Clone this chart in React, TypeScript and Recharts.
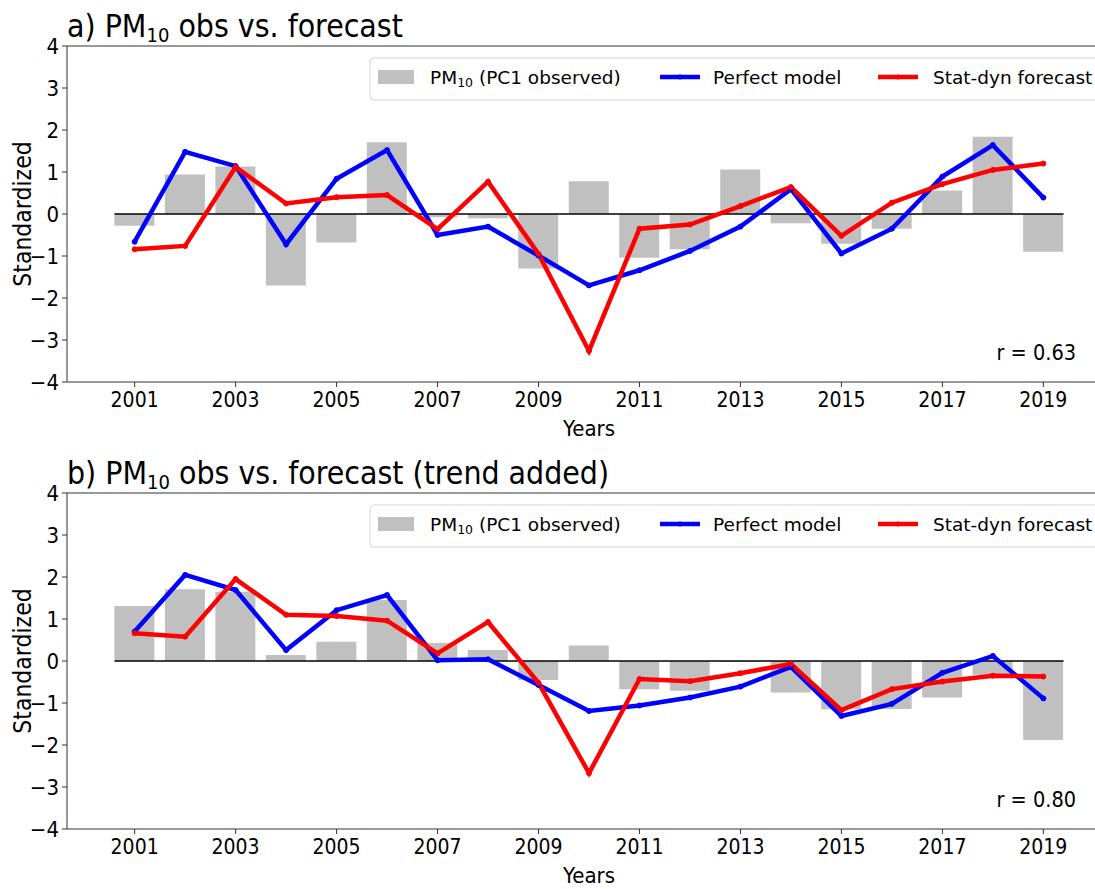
import React from 'react';
import { ComposedChart, Bar, Line, XAxis, YAxis, ReferenceLine } from 'recharts';

const YEARS = [2001, 2002, 2003, 2004, 2005, 2006, 2007, 2008, 2009, 2010, 2011, 2012, 2013, 2014, 2015, 2016, 2017, 2018, 2019];

// Panel a) PM10 obs vs. forecast
const OBS_A = [-0.28, 0.94, 1.13, -1.70, -0.68, 1.71, -0.08, -0.10, -1.30, 0.78, -1.04, -0.84, 1.06, -0.22, -0.71, -0.35, 0.56, 1.84, -0.90];
const PERFECT_A = [-0.66, 1.48, 1.14, -0.72, 0.84, 1.52, -0.50, -0.30, -0.99, -1.70, -1.34, -0.88, -0.30, 0.59, -0.94, -0.35, 0.89, 1.64, 0.39];
const STATDYN_A = [-0.84, -0.76, 1.12, 0.25, 0.40, 0.45, -0.36, 0.77, -0.95, -3.26, -0.35, -0.25, 0.19, 0.64, -0.52, 0.27, 0.71, 1.05, 1.20];

// Panel b) PM10 obs vs. forecast (trend added)
const OBS_B = [1.31, 1.71, 1.65, 0.14, 0.46, 1.45, 0.43, 0.26, -0.45, 0.37, -0.67, -0.71, -0.02, -0.75, -1.15, -1.14, -0.87, -0.33, -1.88];
const PERFECT_B = [0.70, 2.05, 1.69, 0.26, 1.21, 1.57, 0.02, 0.04, -0.57, -1.19, -1.06, -0.87, -0.61, -0.14, -1.31, -1.02, -0.28, 0.12, -0.89];
const STATDYN_B = [0.66, 0.58, 1.95, 1.10, 1.07, 0.96, 0.18, 0.93, -0.52, -2.67, -0.43, -0.48, -0.29, -0.07, -1.17, -0.67, -0.49, -0.35, -0.37];

const X_TICKS = [2001, 2003, 2005, 2007, 2009, 2011, 2013, 2015, 2017, 2019];
const Y_TICKS = [-4, -3, -2, -1, 0, 1, 2, 3, 4];
const X_DOMAIN: [number, number] = [1999.66, 2020.34];
const Y_DOMAIN: [number, number] = [-4, 4];
const ZERO_SPAN = [2000.6, 2019.4];

const TITLE_A = ['a) PM', '10', ' obs vs. forecast'];
const TITLE_B = ['b) PM', '10', ' obs vs. forecast (trend added)'];
const R_A = 'r = 0.63';
const R_B = 'r = 0.80';
const LEGEND = { obs: ['PM', '10', ' (PC1 observed)'], perfect: 'Perfect model', statdyn: 'Stat-dyn forecast' };

const build = (obs: number[], perf: number[], stat: number[]) =>
  YEARS.map((year, i) => ({ year, obs: obs[i], perf: perf[i], stat: stat[i] }));

const DATA_A = build(OBS_A, PERFECT_A, STATDYN_A);
const DATA_B = build(OBS_B, PERFECT_B, STATDYN_B);

const FONT = "'DejaVu Sans Condensed', 'DejaVu Sans', sans-serif";
const FONT_REG = "'DejaVu Sans', sans-serif";
const BLUE = '#0000ff';
const RED = '#ff0000';
const GREY = '#c0c0c0';
const SPINE = '#333333';

const fmtY = (v: number) => (v < 0 ? `\u2212${Math.abs(v)}` : `${v}`);

const XLabel = (props: any) => {
  const vb = props.viewBox || { x: 0, y: 0, width: 0, height: 0 };
  return (
    <text x={vb.x + vb.width / 2} y={vb.y + 54} textAnchor="middle" fontSize={22} fontFamily={FONT} fill="#000">
      Years
    </text>
  );
};

const YLabel = (props: any) => {
  const vb = props.viewBox || { x: 0, y: 0, width: 0, height: 0 };
  const cx = vb.x + 22;
  const cy = vb.y + vb.height / 2;
  return (
    <text x={cx} y={cy} transform={`rotate(-90 ${cx} ${cy})`} textAnchor="middle" dominantBaseline="central" fontSize={24.5} fontFamily={FONT} fill="#000">
      Standardized
    </text>
  );
};

const CHART_W = 1116;
const CHART_H = 442;
const PLOT_TOP = 46;

function Panel({ data, top }: { data: any[]; top: number }) {
  return (
    <div style={{ position: 'absolute', left: 0, top, width: CHART_W, height: CHART_H }}>
      <ComposedChart width={CHART_W} height={CHART_H} data={data} margin={{ top: PLOT_TOP, right: 5, bottom: 0, left: 0 }}>
        <XAxis
          dataKey="year"
          type="number"
          domain={X_DOMAIN}
          allowDataOverflow
          ticks={X_TICKS}
          height={CHART_H - PLOT_TOP - 336}
          tickSize={5}
          tickMargin={5}
          stroke={SPINE}
          tick={{ fill: '#000', fontSize: 21, fontFamily: FONT }}
          label={<XLabel />}
        />
        <YAxis
          type="number"
          domain={Y_DOMAIN}
          allowDataOverflow
          ticks={Y_TICKS}
          width={67}
          tickSize={5}
          tickMargin={3}
          stroke={SPINE}
          tickFormatter={fmtY}
          tick={{ fill: '#000', fontSize: 22, fontFamily: FONT }}
          label={<YLabel />}
        />
        <ReferenceLine y={Y_DOMAIN[1]} stroke={SPINE} strokeWidth={1.2} />
        <Bar dataKey="obs" fill={GREY} barSize={40} isAnimationActive={false} />
        <ReferenceLine
          segment={[{ x: ZERO_SPAN[0], y: 0 }, { x: ZERO_SPAN[1], y: 0 }]}
          stroke="#000"
          strokeWidth={1.3}
        />
        <Line
          dataKey="perf"
          type="linear"
          stroke={BLUE}
          strokeWidth={4.5}
          dot={{ r: 2.5, fill: BLUE, stroke: BLUE, strokeWidth: 1 }}
          activeDot={false}
          isAnimationActive={false}
        />
        <Line
          dataKey="stat"
          type="linear"
          stroke={RED}
          strokeWidth={4.5}
          dot={{ r: 2.5, fill: RED, stroke: RED, strokeWidth: 1 }}
          activeDot={false}
          isAnimationActive={false}
        />
      </ComposedChart>
    </div>
  );
}

function Annotations({ dy, title, r }: { dy: number; title: string[]; r: string }) {
  return (
    <g transform={`translate(0 ${dy})`}>
      <text x={67} y={37} fontSize={31.7} fontFamily={FONT} fill="#000">
        {title[0]}
        <tspan fontSize={20} dy={5}>{title[1]}</tspan>
        <tspan dy={-5}>{title[2]}</tspan>
      </text>
      <text x={1076} y={360} textAnchor="end" fontSize={21.5} fontFamily={FONT} fill="#000">
        {r}
      </text>
      <rect x={370} y={58} width={780} height={42} rx={4} ry={4} fill="#ffffff" fillOpacity={0.8} stroke="#d4d4d4" strokeWidth={1} />
      <rect x={378} y={70} width={36} height={14} fill={GREY} />
      <text x={430} y={84} fontSize={18.5} fontFamily={FONT_REG} fill="#000">
        {LEGEND.obs[0]}
        <tspan fontSize={12.5} dy={3}>{LEGEND.obs[1]}</tspan>
        <tspan dy={-3}>{LEGEND.obs[2]}</tspan>
      </text>
      <line x1={660} y1={77} x2={700} y2={77} stroke={BLUE} strokeWidth={4.5} />
      <circle cx={680} cy={77} r={2.5} fill={BLUE} />
      <text x={713} y={84} fontSize={18.5} fontFamily={FONT_REG} fill="#000">{LEGEND.perfect}</text>
      <line x1={878} y1={77} x2={918} y2={77} stroke={RED} strokeWidth={4.5} />
      <circle cx={898} cy={77} r={2.5} fill={RED} />
      <text x={933} y={84} fontSize={18.5} fontFamily={FONT_REG} fill="#000">{LEGEND.statdyn}</text>
    </g>
  );
}

export default function App() {
  return (
    <div style={{ position: 'absolute', left: 0, top: 0, width: 1095, height: 889, overflow: 'hidden', background: '#fff' }}>
      <Panel data={DATA_A} top={0} />
      <Panel data={DATA_B} top={447} />
      <svg width={1095} height={889} style={{ position: 'absolute', left: 0, top: 0, pointerEvents: 'none' }}>
        <Annotations dy={0} title={TITLE_A} r={R_A} />
        <Annotations dy={447} title={TITLE_B} r={R_B} />
      </svg>
    </div>
  );
}
